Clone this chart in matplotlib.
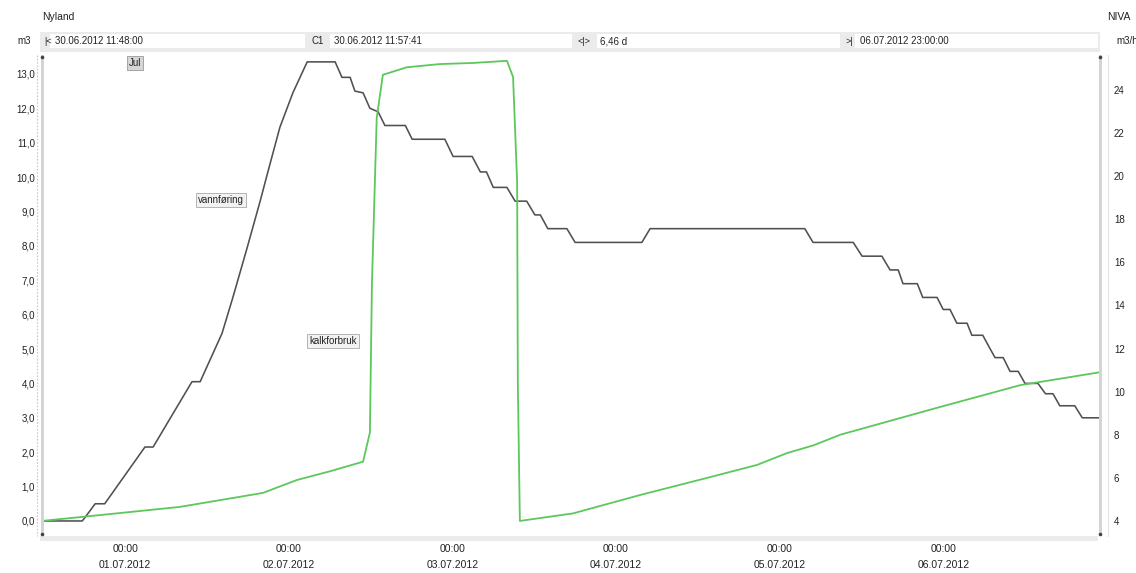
import matplotlib
matplotlib.use('Agg')
import matplotlib.pyplot as plt
import matplotlib.dates as mdates
from matplotlib.patches import Rectangle
from matplotlib.lines import Line2D
from matplotlib.ticker import FixedLocator, FuncFormatter
from datetime import datetime, timedelta

plt.rcParams['font.family'] = ['Liberation Sans', 'DejaVu Sans']

W, H = 1136, 573
BASE = datetime(2012, 6, 30)

# ---- data (hours since 30.06.2012 00:00) ----
flow_hours = [11.8, 17.7, 18.1, 19.6, 21.0, 26.9, 28.1, 33.8, 35.0, 38.2, 39.8, 41.9,
              43.8, 45.0, 46.7, 48.6, 50.7, 54.8, 55.8, 57.0, 57.7, 58.9, 59.9,
              61.1, 62.1, 65.1, 66.1, 70.9, 72.1, 74.9, 76.1, 77.0, 78.0, 80.0, 81.2,
              82.9, 84.1, 84.9, 86.0, 88.8, 90.0, 99.8, 101.0, 123.7, 124.9, 130.8,
              132.1, 135.0, 136.2, 137.4, 138.1, 140.2, 141.0, 143.1, 144.0, 145.0,
              146.0, 147.5, 148.2, 149.8, 150.9, 151.6, 152.8, 153.8, 155.0, 156.0,
              157.9, 159.0, 160.1, 161.1, 163.3, 164.4, 167.0]
flow_m3 = [0.0, 0.0, 0.1, 0.5, 0.5, 2.15, 2.15, 4.05, 4.05, 5.45, 6.5, 7.95,
           9.3, 10.2, 11.45, 12.45, 13.35, 13.35, 12.9, 12.9, 12.5, 12.45, 12.0,
           11.9, 11.5, 11.5, 11.1, 11.1, 10.6, 10.6, 10.15, 10.15, 9.7, 9.7, 9.3,
           9.3, 8.9, 8.9, 8.5, 8.5, 8.1, 8.1, 8.5, 8.5, 8.1, 8.1,
           7.7, 7.7, 7.3, 7.3, 6.9, 6.9, 6.5, 6.5, 6.15, 6.15,
           5.75, 5.75, 5.4, 5.4, 5.0, 4.75, 4.75, 4.35, 4.35, 4.0,
           4.0, 3.7, 3.7, 3.35, 3.35, 3.0, 3.0]

lime_hours = [11.8, 18.1, 32.0, 44.2, 49.2, 54.0, 58.9, 59.9, 60.2, 60.9, 61.8, 65.3,
              70.2, 75.0, 80.0, 80.9, 81.5, 81.6, 81.9, 89.7, 99.5, 109.4, 116.7,
              121.1, 124.9, 128.9, 143.1, 155.3, 167.0]
lime_m3h = [4.0, 4.2, 4.65, 5.3, 5.9, 6.3, 6.75, 8.1, 15.0, 22.7, 24.7, 25.05,
            25.2, 25.25, 25.35, 24.6, 19.7, 10.4, 4.0, 4.35, 5.2, 6.0, 6.6,
            7.15, 7.5, 8.0, 9.25, 10.3, 10.9]

left_ticks = list(range(0, 14))
right_ticks = list(range(4, 25, 2))
day_labels = ['01.07.2012', '02.07.2012', '03.07.2012', '04.07.2012', '05.07.2012', '06.07.2012']

series_names = ['vannføring', 'kalkforbruk']
header_left = 'Nyland'
header_right = 'NIVA'
unit_left = 'm3'
unit_right = 'm3/h'
t_start = '30.06.2012 11:48:00'
t_cursor = '30.06.2012 11:57:41'
t_span = '6,46 d'
t_end = '06.07.2012 23:00:00'

# ---- figure ----
fig = plt.figure(figsize=(W / 100, H / 100), dpi=100)
fig.patch.set_facecolor('white')


def fx(x):
    return x / W


def fy(y):
    return 1 - y / H


def rect(x0, y0, x1, y1, fc, ec='none', lw=0.0, z=0):
    fig.add_artist(Rectangle((fx(x0), fy(y1)), (x1 - x0) / W, (y1 - y0) / H,
                             transform=fig.transFigure, facecolor=fc, edgecolor=ec,
                             linewidth=lw, zorder=z))


def ftext(x, y, s, ha='left', size=7, **kw):
    fig.text(fx(x), fy(y), s, ha=ha, va='center', fontsize=size, color='#222222', **kw)


# toolbar
rect(40, 32, 1100, 52, '#ebebeb')
for (a, b) in [(50, 305), (330, 572), (597, 840), (855, 1098)]:
    rect(a, 34, b, 48, 'white')
ftext(42, 17, header_left, size=7.5)
ftext(1130, 17, header_right, ha='right', size=7.5)
ftext(17, 41, unit_left, size=7)
ftext(1116, 41, unit_right, size=7)
ftext(44, 41, '|<', size=6.5)
ftext(55, 41, t_start, size=7)
ftext(311, 41, 'C1', size=7)
ftext(334, 41, t_cursor, size=7)
ftext(577, 41, '<|>', size=6.5)
ftext(600, 41, t_span, size=7)
ftext(845, 41, '>|', size=6.5)
ftext(860, 41, t_end, size=7)

# bottom strip and axis bars
rect(40, 536, 1098, 541, '#ebebeb')
rect(41, 55, 44, 536, '#d4d4d4', z=3)
rect(1099, 55, 1102, 536, '#d4d4d4', z=3)
fig.add_artist(Line2D([fx(37), fx(37)], [fy(55), fy(536)], transform=fig.transFigure,
                      color='#c8c8c8', lw=0.8, ls=(0, (1.5, 1.5))))
fig.add_artist(Line2D([fx(1108), fx(1108)], [fy(55), fy(536)], transform=fig.transFigure,
                      color='#e4e4e4', lw=0.8))
for (px, py) in [(42, 57), (42, 534), (1100, 57), (1100, 534)]:
    fig.add_artist(Line2D([fx(px)], [fy(py)], transform=fig.transFigure, marker='o',
                          ms=1.6, color='#444444', zorder=5))

ax = fig.add_axes([fx(42), fy(533), (1100 - 42) / W, (533 - 55) / H])
ax2 = ax.twinx()
for a in (ax, ax2):
    for s in a.spines.values():
        s.set_visible(False)
    a.set_facecolor('none')

ft = [BASE + timedelta(hours=h) for h in flow_hours]
lt = [BASE + timedelta(hours=h) for h in lime_hours]
ax.plot(ft, flow_m3, color='#505050', lw=1.15, zorder=3)
ax2.plot(lt, lime_m3h, color='#5cc85c', lw=1.3, zorder=2)

ax.set_xlim(BASE + timedelta(hours=11.8), BASE + timedelta(hours=167))
ax.set_ylim(-0.35, 13.55)
ax2.set_ylim(3.44, 25.62)

ax.yaxis.set_major_locator(FixedLocator(left_ticks))
ax.yaxis.set_major_formatter(FuncFormatter(lambda v, p: f'{v:.1f}'.replace('.', ',')))
ax2.yaxis.set_major_locator(FixedLocator(right_ticks))
ax.tick_params(axis='y', length=0, pad=5, labelsize=7, labelcolor='#222222')
ax2.tick_params(axis='y', length=0, pad=10, labelsize=7, labelcolor='#222222')

day_pos = [mdates.date2num(BASE + timedelta(days=i + 1)) for i in range(len(day_labels))]
ax.set_xticks(day_pos)
ax.set_xticklabels(['00:00\n' + d for d in day_labels])
ax.tick_params(axis='x', length=0, pad=8, labelsize=7.5, labelcolor='#222222')
for lab in ax.get_xticklabels():
    lab.set_linespacing(1.75)

# annotations
box = dict(boxstyle='square,pad=0.25', facecolor='#f2f2f2', edgecolor='#aaaaaa', linewidth=0.6)
ftext(129, 63, 'Jul', size=7,
      bbox=dict(boxstyle='square,pad=0.2', facecolor='#d6d6d6', edgecolor='#999999', linewidth=0.6))
ftext(198, 200, series_names[0], size=7, bbox=box)
ftext(309, 341, series_names[1], size=7, bbox=box)

fig.savefig('out.png', dpi=100, facecolor='white')
